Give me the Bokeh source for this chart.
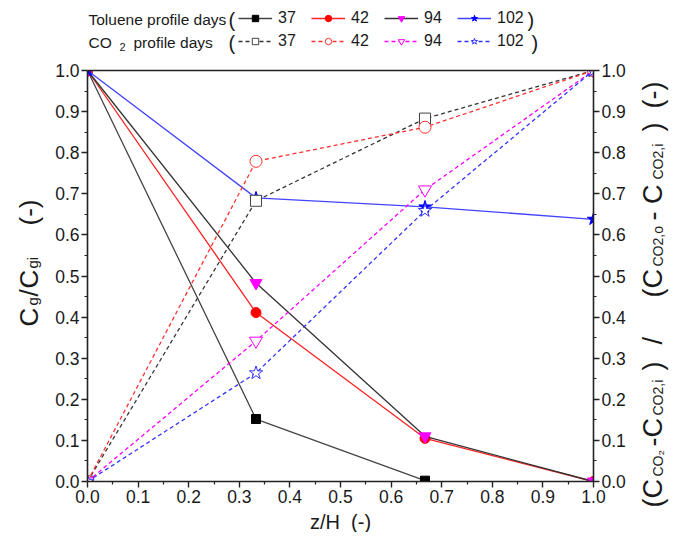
import math
from bokeh.plotting import figure
from bokeh.models import (Range1d, LinearAxis, FixedTicker, PrintfTickFormatter,
                          Label, Legend, LegendItem, BoxAnnotation)
from bokeh.embed import file_html
from bokeh.resources import INLINE

# ---------------- data ----------------
z_pos = [0.0, 0.333, 0.667, 1.0]
z_pos_37 = [0.0, 0.333, 0.667]
tol_37 = [1.0, 0.152, 0.002]
tol_42 = [1.0, 0.411, 0.105, 0.0]
tol_94 = [1.0, 0.483, 0.110, 0.0]
tol_102 = [1.0, 0.690, 0.668, 0.638]
co2_37 = [0.0, 0.683, 0.883, 1.0]
co2_42 = [0.0, 0.779, 0.862, 1.0]
co2_94 = [0.0, 0.342, 0.710, 1.0]
co2_102 = [0.0, 0.264, 0.659, 1.0]
days = ["37", "42", "94", "102"]
major_ticks = [0.0, 0.1, 0.2, 0.3, 0.4, 0.5, 0.6, 0.7, 0.8, 0.9, 1.0]
minor_ticks = [0.05, 0.15, 0.25, 0.35, 0.45, 0.55, 0.65, 0.75, 0.85, 0.95]

FONT = "Liberation Sans"
TXT = "#1a1a1a"

# page geometry (pixels): plot area 0..1 spans x 87..593, y 481..70
W, H = 676, 532
PL, PR, PT, PB = 87, 593, 70, 481
sx = (PR - PL) / 1.0
sy = (PB - PT) / 1.0

p = figure(width=W, height=H, output_backend="svg", toolbar_location=None, title=None,
           x_axis_location=None, y_axis_location=None,
           x_range=Range1d(-PL / sx, (W - PL) / sx),
           y_range=Range1d(-(H - PB) / sy, 1 + PT / sy),
           min_border=0)
p.xgrid.visible = False
p.ygrid.visible = False
p.outline_line_color = None
p.background_fill_color = "white"
p.border_fill_color = "white"

ax_b = LinearAxis(fixed_location=0)
ax_l = LinearAxis(fixed_location=0)
ax_r = LinearAxis(fixed_location=1)
ax_t = LinearAxis(fixed_location=1)
p.add_layout(ax_b, "below")
p.add_layout(ax_l, "left")
p.add_layout(ax_r, "right")
p.add_layout(ax_t, "above")

for ax in [ax_b, ax_l, ax_r, ax_t]:
    ax.bounds = (0, 1)
    ax.ticker = FixedTicker(ticks=major_ticks, minor_ticks=minor_ticks)
    ax.formatter = PrintfTickFormatter(format="%.1f")
    ax.axis_line_color = "#222222"
    ax.axis_line_width = 1.6
    ax.major_tick_line_color = "#222222"
    ax.minor_tick_line_color = "#222222"
    ax.major_tick_line_width = 1.4
    ax.minor_tick_line_width = 1.2
    ax.major_tick_in = 0
    ax.major_tick_out = 6
    ax.minor_tick_in = 0
    ax.minor_tick_out = 3
    ax.major_label_text_font = FONT
    ax.major_label_text_font_size = "17.5px"
    ax.major_label_text_color = TXT
    ax.major_label_standoff = 2

ax_t.ticker = FixedTicker(ticks=[], minor_ticks=[])
ax_t.major_label_text_font_size = "0px"

ax_b.axis_label = "z/H\u00a0\u00a0(-)"
ax_b.axis_label_text_font = FONT
ax_b.axis_label_text_font_size = "20px"
ax_b.axis_label_text_font_style = "normal"
ax_b.axis_label_text_color = TXT
ax_b.axis_label_standoff = 5

DASH = "4 3"
LW = 1.3

# toluene (solid)
l37 = p.line(z_pos_37, tol_37, line_color="#444444", line_width=LW)
m37 = p.scatter(z_pos_37, tol_37, marker="square", size=9, fill_color="black", line_color="black")
l42 = p.line(z_pos, tol_42, line_color="#ff2020", line_width=LW)
m42 = p.scatter(z_pos, tol_42, marker="circle", size=10, fill_color="red", line_color="red")
l94 = p.line(z_pos, tol_94, line_color="#333333", line_width=LW)
m94 = p.scatter(z_pos, tol_94, marker="inverted_triangle", size=12, fill_color="#ff00ff", line_color="#ff00ff")
l102 = p.line(z_pos, tol_102, line_color="#4444ff", line_width=LW)
m102 = p.scatter(z_pos, tol_102, marker="star", size=13, fill_color="#0000ff", line_color="#0000ff")

# CO2 (dashed, open)
c37 = p.line(z_pos, co2_37, line_color="#333333", line_width=LW, line_dash=DASH)
n37 = p.scatter(z_pos, co2_37, marker="square", size=11, fill_color="white", line_color="#444444")
c42 = p.line(z_pos, co2_42, line_color="#ff3030", line_width=LW, line_dash=DASH)
n42 = p.scatter(z_pos, co2_42, marker="circle", size=12, fill_color="white", line_color="#ff3030")
c94 = p.line(z_pos, co2_94, line_color="#ff00ff", line_width=LW, line_dash=DASH)
n94 = p.scatter(z_pos, co2_94, marker="inverted_triangle", size=13, fill_color="white", line_color="#ff00ff")
c102 = p.line(z_pos, co2_102, line_color="#3333ff", line_width=LW, line_dash=DASH)
n102 = p.scatter(z_pos, co2_102, marker="star", size=14, fill_color="white", line_color="#3333ff")

# mask outside the 0..1 plot area (emulates clipping of markers at the borders)
for kw in [dict(right=0), dict(left=1), dict(top=0), dict(bottom=1)]:
    p.add_layout(BoxAnnotation(fill_color="white", fill_alpha=1.0, line_alpha=0,
                               level="glyph", **kw))


def put(text, xa, ya, size, angle=0.0, align="left", baseline="alphabetic"):
    p.add_layout(Label(x=xa, y=H - ya, x_units="screen", y_units="screen",
                       text=text, angle=angle, text_font=FONT, text_font_size=size,
                       text_align=align, text_baseline=baseline, text_color=TXT))


def make_legend(items, bottom_abs):
    lg = Legend(items=items, orientation="horizontal", location=(238, H - bottom_abs),
                background_fill_alpha=0, border_line_alpha=0, padding=0, margin=0,
                glyph_width=34, glyph_height=16, label_height=16, label_width=28,
                label_standoff=6, spacing=5,
                label_text_font=FONT, label_text_font_size="16px", label_text_color=TXT)
    p.add_layout(lg)


make_legend([LegendItem(label=days[0], renderers=[l37, m37]),
             LegendItem(label=days[1], renderers=[l42, m42]),
             LegendItem(label=days[2], renderers=[l94, m94]),
             LegendItem(label=days[3], renderers=[l102, m102])], 27)
make_legend([LegendItem(label=days[0], renderers=[c37, n37]),
             LegendItem(label=days[1], renderers=[c42, n42]),
             LegendItem(label=days[2], renderers=[c94, n94]),
             LegendItem(label=days[3], renderers=[c102, n102])], 50)

put("Toluene profile days", 88, 19, "15.5px", baseline="middle")
put("(", 228, 19, "20px", baseline="middle")
put(")", 527, 19, "20px", baseline="middle")
put("CO", 88, 42, "15.5px", baseline="middle")
put("2", 119, 46, "11px", baseline="middle")
put("profile days", 133, 42, "15.5px", baseline="middle")
put("(", 228, 42, "20px", baseline="middle")
put(")", 531, 42, "20px", baseline="middle")

# left axis title (rotated, with subscripts)
R = math.pi / 2
BIG, SUBL, SUB = "26px", "15px", "14px"
LX = 28
put("C", LX, 326, BIG, angle=R)
put("g", LX + 4, 305, SUBL, angle=R)
put("/", LX, 296, BIG, angle=R)
put("C", LX, 288, BIG, angle=R)
put("gi", LX + 4, 268, SUBL, angle=R)
put("(-)", LX, 225, BIG, angle=R)

# right axis title
RB = "27px"
RX = 652
put("(C", RX, 507, RB, angle=R)
put("CO\u2082", RX + 5, 476, SUB, angle=R)
put("-C", RX, 446, RB, angle=R)
put("CO2,i", RX + 5, 415, SUB, angle=R)
put(")", RX, 370, RB, angle=R)
put("/", RX, 344, RB, angle=R)
put("(C", RX, 297, RB, angle=R)
put("CO2,o", RX + 5, 266, SUB, angle=R)
put("- C", RX, 220, RB, angle=R)
put("CO2,i", RX + 5, 179, SUB, angle=R)
put(")", RX, 131, RB, angle=R)
put("(-)", RX, 108, RB, angle=R)

open("out.html", "w").write(file_html(p, INLINE))
